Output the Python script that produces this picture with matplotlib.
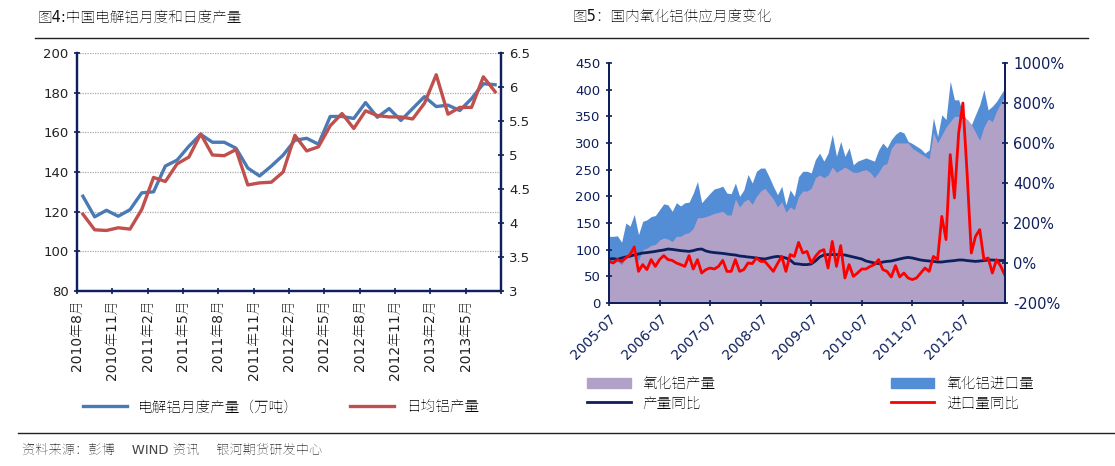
import glob
import matplotlib
matplotlib.use("Agg")
import matplotlib.pyplot as plt
from matplotlib import font_manager as fm
from matplotlib.lines import Line2D
from matplotlib.patches import Patch

_static = [p for p in glob.glob("/usr/share/fonts/**/*", recursive=True)
           if ("CJK" in p or "NotoSansSC" in p) and "[" not in p and ("Regular" in p or "Medium" in p)]
for p in _static:
    try:
        fm.fontManager.addfont(p)
    except Exception:
        pass
_avail = {f.name for f in fm.fontManager.ttflist}
CJK = next((n for n in ["Noto Sans CJK SC", "Noto Sans SC", "Noto Sans CJK JP", "Noto Serif SC"] if n in _avail), "DejaVu Sans")
plt.rcParams["font.family"] = ["DejaVu Sans", CJK]
plt.rcParams["font.weight"] = "medium"

# ---- Left chart data (Aug 2010 - Jul 2013) ----
left_tick_labels = ["2010年8月", "2010年11月", "2011年2月", "2011年5月", "2011年8月", "2011年11月",
                    "2012年2月", "2012年5月", "2012年8月", "2012年11月", "2013年2月", "2013年5月"]
monthly_output = [127.8, 117.4, 120.7, 117.7, 121, 129.5, 130, 143, 146, 153, 159, 155, 155, 152,
                  142, 138, 143, 148.5, 156, 157, 154, 168, 168, 167, 175, 167.6, 172, 166, 172,
                  178, 173, 173.7, 171, 177, 184.5, 184]
daily_output = [4.13, 3.90, 3.89, 3.93, 3.91, 4.2, 4.67, 4.61, 4.87, 4.97, 5.31, 5.0, 4.99, 5.08,
                4.56, 4.59, 4.60, 4.75, 5.29, 5.06, 5.12, 5.43, 5.61, 5.39, 5.65, 5.58, 5.56, 5.56,
                5.53, 5.76, 6.18, 5.60, 5.70, 5.70, 6.15, 5.93]

# ---- Right chart data (Jul 2005 - May 2013) ----
right_tick_labels = ["2005-07", "2006-07", "2007-07", "2008-07", "2009-07", "2010-07", "2011-07", "2012-07"]
alumina_production = [75, 75, 78, 72, 85, 85, 90, 80, 100, 103,
                      108, 110, 118, 122, 120, 115, 125, 125, 130, 132,
                      140, 160, 160, 162, 165, 168, 170, 172, 165, 165,
                      195, 180, 190, 195, 185, 200, 210, 215, 205, 195,
                      180, 190, 170, 180, 175, 200, 210, 210, 215, 235,
                      240, 235, 240, 255, 245, 250, 255, 250, 245, 245,
                      248, 250, 245, 235, 245, 258, 262, 290, 300, 300,
                      300, 300, 290, 285, 280, 275, 270, 320, 300, 315,
                      330, 340, 350, 350, 345, 345, 335, 320, 305, 330,
                      345, 340, 360, 375, 390]
alumina_supply_total = [125, 125, 126, 114, 150, 144, 166, 128, 153, 156,
                        162, 164, 175, 186, 184, 172, 188, 182, 188, 189,
                        206, 228, 188, 197, 206, 214, 216, 219, 206, 205,
                        225, 200, 212, 241, 225, 247, 253, 253, 237, 219,
                        203, 219, 184, 212, 200, 237, 247, 247, 244, 269,
                        281, 266, 281, 316, 275, 303, 275, 291, 259, 266,
                        269, 272, 269, 266, 287, 300, 291, 306, 316, 322,
                        319, 303, 299, 294, 289, 281, 287, 347, 312, 353,
                        344, 416, 381, 381, 356, 341, 334, 353, 372, 400,
                        362, 369, 378, 391, 403]
production_yoy = [20, 22, 18, 25, 30, 35, 40, 45, 50, 52,
                  55, 58, 62, 65, 70, 68, 65, 62, 60, 58,
                  62, 68, 70, 60, 55, 52, 50, 48, 45, 42,
                  40, 35, 33, 30, 28, 25, 22, 20, 25, 30,
                  33, 30, 25, 15, -3, -5, -8, -8, -5, 10,
                  30, 40, 42, 42, 42, 42, 40, 35, 30, 25,
                  20, 10, 5, 0, -3, 5, 8, 10, 15, 20,
                  25, 28, 25, 20, 15, 12, 10, 8, 5, 5,
                  8, 10, 12, 15, 15, 12, 10, 8, 10, 12,
                  15, 15, 13, 12, 13]
import_yoy = [8, 0, 17, 8, 25, 42, 80, -42, -8, -33,
              17, -17, 17, 37, 17, 13, 0, -8, -17, 37,
              -30, 17, -50, -33, -25, -30, -17, 13, -42, -42,
              17, -42, -33, 0, -3, 25, 8, 8, -17, -42,
              -3, 33, -42, 42, 33, 103, 50, 58, 0, 33,
              58, 67, -25, 108, -17, 87, -75, -8, -67, -50,
              -30, -30, -17, -8, 17, -33, -42, -70, -13, -70,
              -50, -75, -83, -75, -50, -25, -42, 33, 17, 233,
              117, 542, 325, 650, 800, 450, 50, 133, 167, 17,
              25, -50, 17, -17, -62]

NAVY = "#0d1f5c"
fig = plt.figure(figsize=(11.15, 4.66), dpi=100)

fig.text(38/1115, 1-17/466, "图4:中国电解铝月度和日度产量", fontsize=10.5, va="center", color="#111111")
fig.text(573/1115, 1-17/466, "图5：国内氧化铝供应月度变化", fontsize=10.5, va="center", color="#111111")
fig.add_artist(Line2D([35/1115, 1088/1115], [1-38/466]*2, color="#222222", lw=1.0))
fig.add_artist(Line2D([18/1115, 1115/1115], [1-433/466]*2, color="#222222", lw=1.0))
fig.text(22/1115, 1-450/466, "资料来源：彭博    WIND 资讯    银河期货研发中心", fontsize=9.5, va="center",
         color="#444444")

# ---- Left ----
ax = fig.add_axes([77/1115, 1-291/466, 424/1115, 238/466])
x = list(range(len(monthly_output)))
ax.plot(x, monthly_output, color="#4a7ab5", lw=2.4)
ax.set_ylim(80, 200)
ax.set_yticks(range(80, 201, 20))
ax.set_xlim(-0.5, len(x) - 0.5)
ax.set_xticks([-0.5 + 3*k for k in range(len(left_tick_labels))] + [len(x) - 0.5])
ax.set_xticklabels(left_tick_labels + [""], rotation=90, color="#111111")
ax.grid(axis="y", color="#aaaaaa", ls=(0, (1, 1)), lw=0.9)
ax2 = ax.twinx()
ax2.plot(x, daily_output, color="#c0504d", lw=2.4)
ax2.set_ylim(3, 6.5)
ax2.set_yticks([3, 3.5, 4, 4.5, 5, 5.5, 6, 6.5])
ax2.set_yticklabels(["3", "3.5", "4", "4.5", "5", "5.5", "6", "6.5"])
for a in (ax, ax2):
    for s in a.spines.values():
        s.set_color(NAVY); s.set_linewidth(1.6)
    a.spines["top"].set_visible(False)
    a.tick_params(colors="#222222", labelsize=9.5, direction="inout", length=5, width=1.2)
    a.tick_params(axis="both", color=NAVY)
ax.tick_params(axis="x", labelsize=10)
ax.legend(handles=[Line2D([], [], color="#4a7ab5", lw=2.4, label="电解铝月度产量（万吨）"),
                   Line2D([], [], color="#c0504d", lw=2.4, label="日均铝产量")],
          loc="upper left", bbox_to_anchor=(0.0, -0.43), ncol=2, frameon=False, fontsize=10.5,
          handlelength=3, columnspacing=3.5, borderaxespad=0)

# ---- Right ----
bx = fig.add_axes([609/1115, 1-303/466, 396/1115, 240/466])
xr = list(range(len(alumina_production)))
bx.fill_between(xr, 0, alumina_supply_total, color="#538dd5", lw=0)
bx.fill_between(xr, 0, alumina_production, color="#b2a1c7", lw=0)
bx.set_xlim(0, len(xr) - 1)
bx.set_ylim(0, 450)
bx.set_yticks(range(0, 451, 50))
bx.set_xticks([12*k for k in range(len(right_tick_labels))])
bx.set_xticklabels(right_tick_labels, rotation=45, ha="right", rotation_mode="anchor",
                   fontsize=9.5, color=NAVY)
bx2 = bx.twinx()
bx2.plot(xr, production_yoy, color=NAVY, lw=2)
bx2.plot(xr, import_yoy, color="#ff0000", lw=2)
bx2.set_ylim(-200, 1000)
bx2.set_yticks(range(-200, 1001, 200))
bx2.set_yticklabels([f"{v}%" for v in range(-200, 1001, 200)])
for a in (bx, bx2):
    for s in a.spines.values():
        s.set_color(NAVY); s.set_linewidth(1.4)
    a.spines["top"].set_visible(False)
    a.tick_params(colors=NAVY, labelsize=10, direction="inout", length=5, width=1.2)
bx.tick_params(axis="y", labelsize=9.5)
bx2.tick_params(axis="y", labelsize=10.5)
bx.legend(handles=[Patch(color="#b2a1c7", label="氧化铝产量"),
                   Line2D([], [], color=NAVY, lw=2, label="产量同比"),
                   Patch(color="#538dd5", label="氧化铝进口量"),
                   Line2D([], [], color="#ff0000", lw=2, label="进口量同比")],
          loc="upper left", bbox_to_anchor=(-0.07, -0.28), ncol=2, frameon=False, fontsize=10.5,
          handlelength=3, columnspacing=12, borderaxespad=0, labelspacing=0.3)

fig.savefig("out.png", dpi=100)
